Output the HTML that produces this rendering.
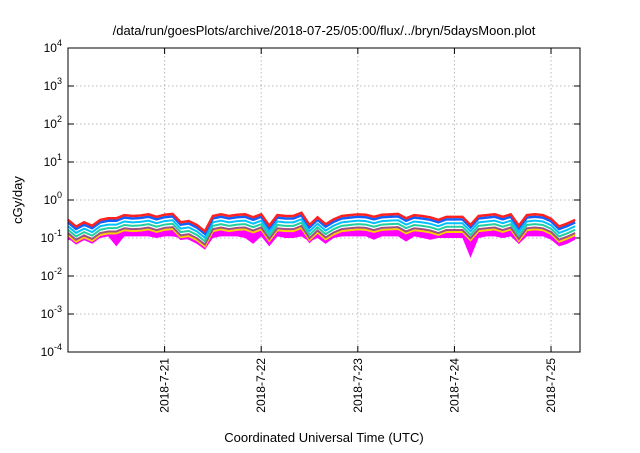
<!DOCTYPE html>
<html><head><meta charset="utf-8"><style>
body{margin:0;background:#fff;width:640px;height:448px;overflow:hidden}
svg{font-family:"Liberation Sans",sans-serif}
</style></head><body>
<svg id="c" width="640" height="448"></svg>
<script>
// times: days since 2018-07-20 00:00, step 2h
const redValues=[0.30,0.20,0.26,0.21,0.30,0.33,0.33,0.40,0.38,0.39,0.42,0.36,0.41,0.43,0.26,0.28,0.22,0.15,0.38,0.42,0.38,0.41,0.42,0.35,0.42,0.21,0.40,0.38,0.38,0.46,0.22,0.35,0.23,0.31,0.38,0.40,0.42,0.41,0.36,0.41,0.42,0.43,0.33,0.40,0.38,0.35,0.30,0.36,0.36,0.36,0.22,0.38,0.40,0.42,0.36,0.42,0.21,0.40,0.42,0.40,0.32,0.20,0.24,0.30];
const magentaLow=[0.09,0.08,0.10,0.09,0.10,0.11,0.06,0.11,0.11,0.11,0.11,0.10,0.11,0.11,0.10,0.09,0.07,0.05,0.10,0.11,0.11,0.11,0.10,0.07,0.11,0.06,0.11,0.10,0.10,0.11,0.08,0.10,0.07,0.10,0.11,0.11,0.11,0.11,0.09,0.11,0.11,0.11,0.08,0.11,0.10,0.09,0.10,0.10,0.10,0.10,0.03,0.10,0.11,0.11,0.10,0.11,0.07,0.11,0.11,0.11,0.09,0.06,0.07,0.09];
const seriesRatios=[1,0.86,0.68,0.55,0.45,0.40,0.36];
const seriesColors=["#ff2020","#1060ff","#00c0ff","#20d0a0","#a05080","#ffd000","#ff00ff"];
const yTickExps=[-4,-3,-2,-1,0,1,2,3,4];
const xTickDays=[1,2,3,4,5];
const xTickLabels=["2018-7-21","2018-7-22","2018-7-23","2018-7-24","2018-7-25"];
const step=1/12;
const L=68,R=580,T=48,B=352,D0=0,D1=5.3;
const xs=d=>L+(d-D0)/(D1-D0)*(R-L);
const ys=v=>B-(Math.log10(v)+4)/8*(B-T);
const svg=document.getElementById('c');const NS="http://www.w3.org/2000/svg";
function mk(t,a,p){const e=document.createElementNS(NS,t);for(const k in a)e.setAttribute(k,a[k]);(p||svg).appendChild(e);return e;}
// grid & ticks
yTickExps.forEach(ex=>{const y=ys(Math.pow(10,ex));
 if(ex>-4&&ex<4){const g=mk('line',{x1:L,x2:R,y1:y,y2:y,stroke:'#bbb','stroke-dasharray':'1.5,2.5'});
 }
 mk('line',{x1:L,x2:L+6,y1:y,y2:y,stroke:'#000'});mk('line',{x1:R,x2:R-6,y1:y,y2:y,stroke:'#000'});
 const t=mk('text',{x:L-6,y:y+4,'font-size':12,'text-anchor':'end'});
 
 t.textContent='10';const s=mk('tspan',{dy:-6,'font-size':9},t);s.textContent=ex;});
xTickDays.forEach((d,i)=>{const x=xs(d);
 const g=mk('line',{x1:x,x2:x,y1:T,y2:B,stroke:'#bbb','stroke-dasharray':'1.5,2.5'});
 
 mk('line',{x1:x,x2:x,y1:B,y2:B-6,stroke:'#000'});mk('line',{x1:x,x2:x,y1:T,y2:T+6,stroke:'#000'});
 const t=mk('text',{x:x+4,y:B+6,'font-size':12,'text-anchor':'end',transform:`rotate(-90 ${x+4} ${B+6})`});
 
 t.textContent=xTickLabels[i];});
// magenta band
let pts=redValues.map((v,i)=>xs(i*step)+','+ys(v*seriesRatios[6])).join(' ');
let low=magentaLow.map((v,i)=>xs(i*step)+','+ys(v)).reverse().join(' ');
const band=mk('polygon',{points:pts+' '+low,fill:'#ff00ff'});

for(let s=6;s>=0;s--){const p=redValues.map((v,i)=>xs(i*step)+','+ys(v*seriesRatios[s])).join(' ');
 const l=mk('polyline',{points:p,fill:'none',stroke:seriesColors[s],'stroke-width':s<2?2.5:2});
 }
const f=mk('rect',{x:L,y:T,width:R-L,height:B-T,fill:'none',stroke:'#000'});

let t=mk('text',{x:324,y:35,'font-size':13,'text-anchor':'middle'});t.textContent='/data/run/goesPlots/archive/2018-07-25/05:00/flux/../bryn/5daysMoon.plot';

t=mk('text',{x:324,y:442,'font-size':13,'text-anchor':'middle'});t.textContent='Coordinated Universal Time (UTC)';

t=mk('text',{x:22,y:200,'font-size':13,'text-anchor':'middle',transform:'rotate(-90 22 200)'});t.textContent='cGy/day';

</script>
</body></html>
